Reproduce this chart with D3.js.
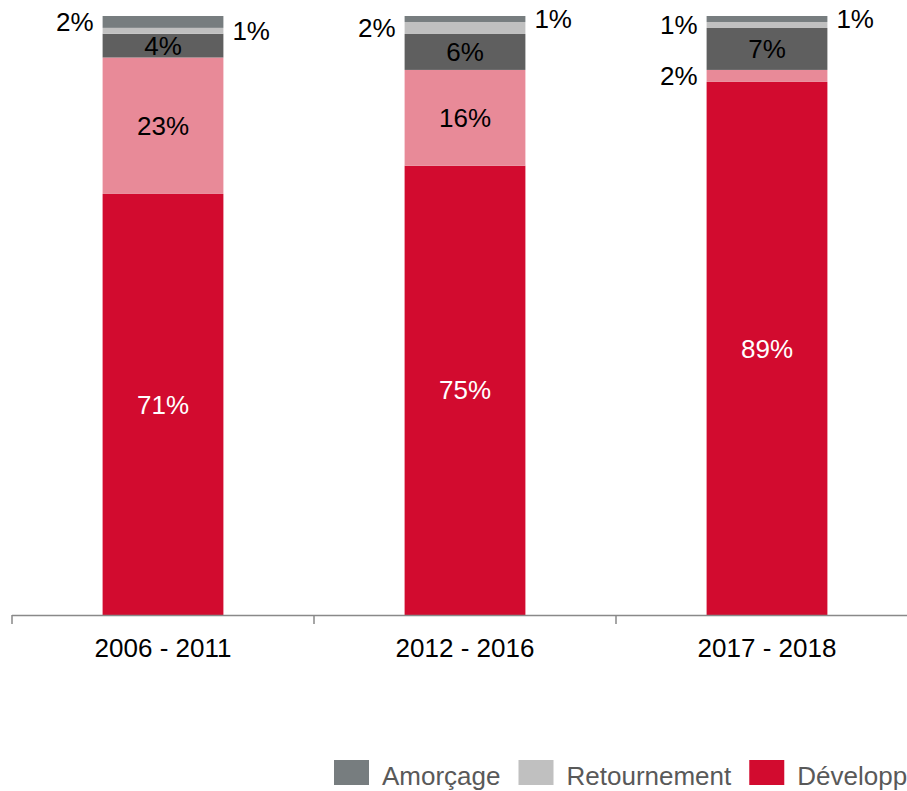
<!DOCTYPE html>
<html>
<head>
<meta charset="utf-8">
<script src="https://cdn.jsdelivr.net/npm/d3@7"></script>
<style>
  html, body { margin: 0; padding: 0; background: #fff; overflow: hidden; }
  svg { display: block; font-family: "Liberation Sans", Arial, sans-serif; }
</style>
</head>
<body>
<script>
// periods
var categories = ["2006 - 2011", "2012 - 2016", "2017 - 2018"];

// series, bottom to top of each bar (values in %)
var seriesNames = ["Développement", "Transmission", "Innovation", "Retournement", "Amorçage"];
var developpement = [71, 75, 89];
var transmission = [23, 16, 2];
var innovation = [4, 6, 7];
var retournement = [1, 2, 1];
var amorcage = [2, 1, 1];

var seriesColors = ["#d20b2f", "#e88a98", "#5f5f5f", "#c0c0c0", "#777d7f"];
var labelColors = ["#fff", "#000", "#000", "#000", "#000"];

// legend entries visible in the picture
var legendNames = ["Amorçage", "Retournement", "Développement"];

var width = 907, height = 791;

var rows = categories.map(function (c, i) {
  return {
    cat: c,
    "Développement": developpement[i],
    "Transmission": transmission[i],
    "Innovation": innovation[i],
    "Retournement": retournement[i],
    "Amorçage": amorcage[i]
  };
});

var stack = d3.stack().keys(seriesNames).offset(d3.stackOffsetExpand);
var layers = stack(rows);

var svg = d3.select("body").append("svg")
  .attr("width", width)
  .attr("height", height);

// band for each period (ticks sit on band edges)
var x = d3.scaleBand()
  .domain(categories)
  .range([12, 918])
  .padding(0);

var barW = x.bandwidth() * 0.4;
var barOff = (x.bandwidth() - barW) / 2;

var y = d3.scaleLinear()
  .domain([0, 1])
  .range([615, 16]);

var color = d3.scaleOrdinal().domain(seriesNames).range(seriesColors);

var layerG = svg.selectAll("g.layer")
  .data(layers)
  .enter()
  .append("g")
  .attr("class", "layer")
  .attr("fill", d => color(d.key));

layerG.selectAll("rect")
  .data(d => d)
  .enter()
  .append("rect")
  .attr("x", d => x(d.data.cat) + barOff)
  .attr("width", barW)
  .attr("y", d => y(d[1]))
  .attr("height", d => y(d[0]) - y(d[1]));

// small segments get their label outside the bar
var outsideSide = {
  "Amorçage": ["left", "right", "right"],
  "Retournement": ["right", "left", "left"],
  "Transmission": [null, null, "left"]
};

layers.forEach(function (layer, si) {
  layer.forEach(function (d, ci) {
    var v = d.data[layer.key];
    var cy = (y(d[0]) + y(d[1])) / 2;
    var x0 = x(d.data.cat) + barOff;
    var side = outsideSide[layer.key] ? outsideSide[layer.key][ci] : null;
    var t = svg.append("text")
      .attr("y", cy)
      .attr("dy", "0.35em")
      .style("font-size", "26px")
      .text(v + "%");
    if (side === "left") {
      t.attr("x", x0 - 9).attr("text-anchor", "end").attr("fill", "#000");
    } else if (side === "right") {
      t.attr("x", x0 + barW + 9).attr("text-anchor", "start").attr("fill", "#000");
    } else {
      t.attr("x", x0 + barW / 2).attr("text-anchor", "middle").attr("fill", labelColors[si]);
    }
  });
});

// category axis
var axis = svg.append("g").attr("class", "axis");
axis.append("line")
  .attr("x1", x.range()[0])
  .attr("x2", x.range()[1])
  .attr("y1", y(0) + 0.5)
  .attr("y2", y(0) + 0.5)
  .attr("stroke", "#898989")
  .attr("stroke-width", 1.5);

var tickPos = categories.map(c => x(c)).concat([x.range()[1]]);
axis.selectAll("line.tick")
  .data(tickPos)
  .enter()
  .append("line")
  .attr("class", "tick")
  .attr("x1", d => d)
  .attr("x2", d => d)
  .attr("y1", y(0))
  .attr("y2", y(0) + 9)
  .attr("stroke", "#898989")
  .attr("stroke-width", 1.5);

axis.selectAll("text")
  .data(categories)
  .enter()
  .append("text")
  .attr("x", d => x(d) + x.bandwidth() / 2)
  .attr("y", 657)
  .attr("text-anchor", "middle")
  .attr("fill", "#000")
  .style("font-size", "26px")
  .text(d => d);

// legend
var legend = svg.append("g").attr("class", "legend");
var lx = 334;
legendNames.forEach(function (name) {
  legend.append("rect")
    .attr("x", lx)
    .attr("y", 760)
    .attr("width", 35)
    .attr("height", 25)
    .attr("fill", color(name));
  var t = legend.append("text")
    .attr("x", lx + 48)
    .attr("y", 785)
    .attr("fill", "#595959")
    .style("font-size", "26px")
    .text(name);
  lx += 48 + t.node().getComputedTextLength() + 18;
});
</script>
</body>
</html>
